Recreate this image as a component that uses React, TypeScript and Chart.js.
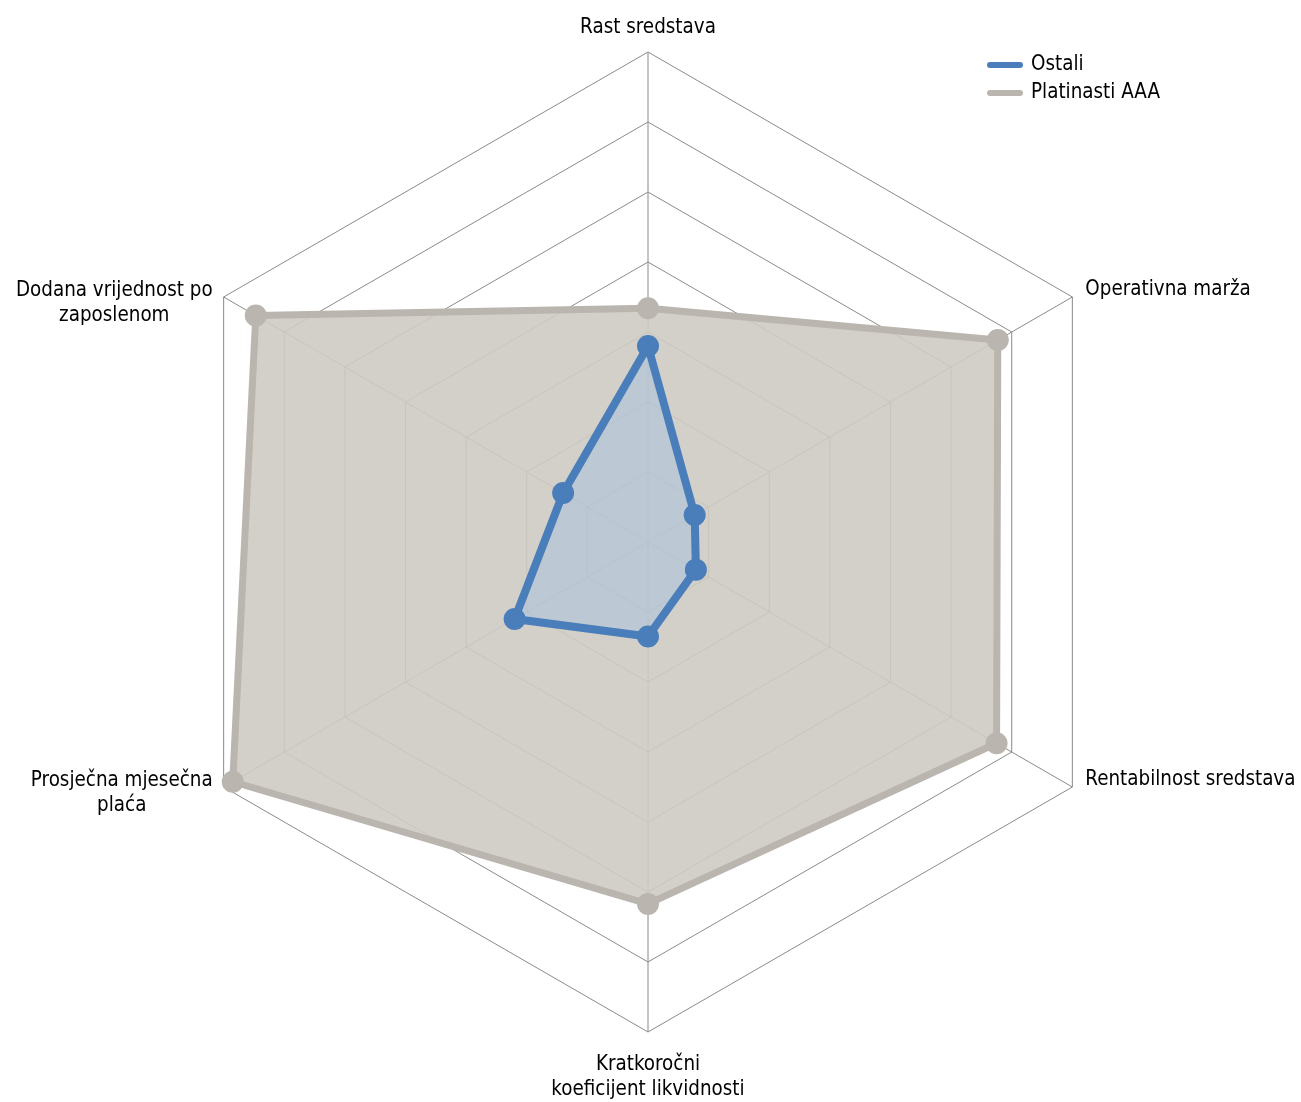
import React, { useEffect, useRef } from "react";
import { Chart, registerables } from "chart.js";

Chart.register(...registerables);

const categories: (string | string[])[] = [
  "Rast sredstava",
  "Operativna marža",
  "Rentabilnost sredstava",
  ["Kratkoročni", "koeficijent likvidnosti"],
  ["Prosječna mjesečna", "plaća"],
  ["Dodana vrijednost po", "zaposlenom"],
];
const seriesNames = ["Ostali", "Platinasti AAA"];
const ostaliValues = [2.8, 0.77, 0.79, 1.35, 2.2, 1.4];
const platinastiValues = [3.34, 5.77, 5.75, 5.17, 6.85, 6.47];
const scaleMin = 0;
const scaleMax = 7;
const scaleStep = 1;

const FONT = "'DejaVu Sans Condensed', 'DejaVu Sans', sans-serif";
const FONT_SIZE = 20.4;
const LINE_H = 24.5;

const pointLabelPlugin = {
  id: "customPointLabels",
  afterDraw(chart: any) {
    const scale = chart.scales.r;
    const ctx = chart.ctx as CanvasRenderingContext2D;
    ctx.save();
    ctx.font = `${FONT_SIZE}px ${FONT}`;
    ctx.fillStyle = "#000000";
    ctx.textBaseline = "middle";
    ctx.textAlign = "center";
    const labels = chart.data.labels as (string | string[])[];
    labels.forEach((lab, i) => {
      const lines = Array.isArray(lab) ? lab : [lab];
      const v = scale.getPointPosition(i, scale.drawingArea);
      const ang = ((((scale.getIndexAngle(i) * 180) / Math.PI) % 360) + 360) % 360;
      const w = Math.max(...lines.map((l) => ctx.measureText(l).width));
      let cx: number;
      let y0: number;
      if (ang < 1 || ang > 359) {
        cx = v.x;
        y0 = v.y - 24 - (lines.length - 1) * LINE_H;
      } else if (Math.abs(ang - 180) < 1) {
        cx = v.x;
        y0 = v.y + 33;
      } else if (ang < 180) {
        cx = v.x + 13 + w / 2;
        y0 = v.y - 7;
      } else {
        cx = v.x - 11 - w / 2;
        y0 = v.y - 6;
      }
      lines.forEach((l, k) => ctx.fillText(l, cx, y0 + k * LINE_H));
    });
    ctx.restore();
  },
};

const legendPlugin = {
  id: "customLegend",
  afterDraw(chart: any) {
    const ctx = chart.ctx as CanvasRenderingContext2D;
    ctx.save();
    ctx.font = `${FONT_SIZE}px ${FONT}`;
    ctx.textBaseline = "middle";
    ctx.textAlign = "left";
    const x0 = chart.width - 314;
    const yStart = 65;
    chart.data.datasets.forEach((ds: any, i: number) => {
      const y = yStart + i * 28;
      ctx.strokeStyle = ds.borderColor;
      ctx.lineWidth = 6;
      ctx.lineCap = "round";
      ctx.beginPath();
      ctx.moveTo(x0 + 3, y);
      ctx.lineTo(x0 + 33, y);
      ctx.stroke();
      ctx.fillStyle = "#000000";
      ctx.fillText(ds.label, x0 + 44, y);
    });
    ctx.restore();
  },
};

export default function App() {
  const canvasRef = useRef<HTMLCanvasElement | null>(null);

  useEffect(() => {
    if (!canvasRef.current) return;
    const chart = new Chart(canvasRef.current, {
      type: "radar",
      data: {
        labels: categories,
        datasets: [
          {
            label: seriesNames[0],
            data: ostaliValues,
            borderColor: "#4A7EBB",
            backgroundColor: "rgba(165,193,221,0.5)",
            borderWidth: 8,
            borderJoinStyle: "round",
            pointRadius: 10,
            pointBorderWidth: 2,
            pointBackgroundColor: "#4A7EBB",
            pointBorderColor: "#4A7EBB",
            fill: true,
          },
          {
            label: seriesNames[1],
            data: platinastiValues,
            borderColor: "#BAB5AE",
            backgroundColor: "rgba(206,202,195,0.9)",
            borderWidth: 7,
            borderJoinStyle: "round",
            pointRadius: 10,
            pointBorderWidth: 2,
            pointBackgroundColor: "#BAB5AE",
            pointBorderColor: "#BAB5AE",
            fill: true,
          },
        ],
      },
      options: {
        animation: false,
        responsive: true,
        maintainAspectRatio: false,
        layout: { padding: { top: 52, bottom: 70, left: 148, right: 153 } },
        plugins: {
          legend: { display: false },
          tooltip: { enabled: false },
        },
        scales: {
          r: {
            min: scaleMin,
            max: scaleMax,
            ticks: { display: false, stepSize: scaleStep },
            grid: { color: "#8a8a8a", lineWidth: 1 },
            angleLines: { color: "#8a8a8a", lineWidth: 1 },
            pointLabels: { display: false },
          },
        },
      },
      plugins: [pointLabelPlugin, legendPlugin],
    } as any);
    return () => chart.destroy();
  }, []);

  return (
    <div style={{ position: "fixed", left: 0, top: 0, width: "1301px", height: "1102px" }}>
      <canvas ref={canvasRef} />
    </div>
  );
}
